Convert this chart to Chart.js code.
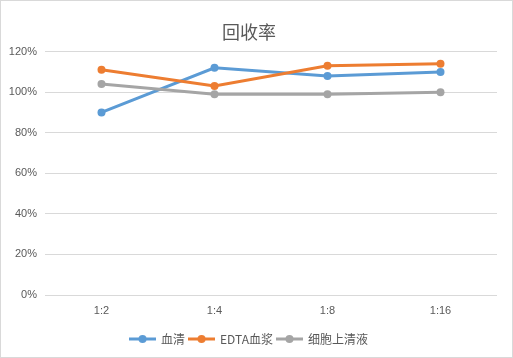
<!DOCTYPE html>
<html>
<head>
<meta charset="utf-8">
<script src="https://cdn.jsdelivr.net/npm/chart.js@4/dist/chart.umd.min.js"></script>
<style>
  html, body { margin: 0; padding: 0; background: #fff; }
  #wrap { width: 511px; height: 356px; border: 1px solid #d9d9d9; position: relative; }
  canvas { display: block; }
</style>
</head>
<body>
<div id="wrap"><canvas id="c" width="511" height="356"></canvas></div>
<script>
const categories = ['1:2', '1:4', '1:8', '1:16'];
const seriesNames = ['血清', 'EDTA血浆', '细胞上清液'];
const serum = [0.90, 1.12, 1.08, 1.10];
const edtaPlasma = [1.11, 1.03, 1.13, 1.14];
const cellSupernatant = [1.04, 0.99, 0.99, 1.00];
const yTicks = [0, 0.2, 0.4, 0.6, 0.8, 1.0, 1.2];
const colors = ['#5B9BD5', '#ED7D31', '#A5A5A5'];

const FONT = "'Liberation Sans', 'Noto Sans CJK SC', sans-serif";
const CJK = "'Noto Sans CJK SC', 'Liberation Sans', sans-serif";

function makeIcon(color) {
  const cv = document.createElement('canvas');
  cv.width = 27; cv.height = 10;
  const g = cv.getContext('2d');
  g.strokeStyle = color; g.lineWidth = 3;
  g.beginPath(); g.moveTo(0, 5); g.lineTo(27, 5); g.stroke();
  g.fillStyle = color;
  g.beginPath(); g.arc(13.5, 5, 4, 0, Math.PI * 2); g.fill();
  return cv;
}
const icons = colors.map(makeIcon);

const values = [serum, edtaPlasma, cellSupernatant];
const datasets = seriesNames.map((name, i) => ({
  label: name,
  data: values[i],
  borderColor: colors[i],
  backgroundColor: colors[i],
  borderWidth: 3,
  pointRadius: 4,
  pointHoverRadius: 4,
  pointBorderWidth: 0,
  tension: 0,
  order: 3 - i
}));

new Chart(document.getElementById('c'), {
  type: 'line',
  data: { labels: categories, datasets },
  options: {
    responsive: false,
    animation: false,
    devicePixelRatio: 1,
    layout: { padding: { left: 0, right: 15, top: 0, bottom: 2 } },
    plugins: {
      tooltip: { enabled: false },
      title: {
        display: true,
        text: '回收率',
        color: '#595959',
        font: { family: CJK, size: 18, weight: 'normal' },
        padding: { top: 20, bottom: 9 }
      },
      legend: {
        position: 'bottom',
        labels: {
          usePointStyle: true,
          pointStyleWidth: 25,
          padding: 4,
          color: '#595959',
          font: { family: CJK, size: 12 },
          sort: (a, b) => a.datasetIndex - b.datasetIndex,
          generateLabels(chart) {
            const items = Chart.defaults.plugins.legend.labels.generateLabels(chart);
            items.forEach(it => { it.pointStyle = icons[it.datasetIndex]; });
            return items;
          }
        }
      }
    },
    scales: {
      x: {
        offset: true,
        grid: { display: false, drawTicks: false, offset: true },
        border: { display: false },
        ticks: { color: '#595959', font: { family: FONT, size: 11 }, padding: 9 },
        afterFit(s) { s.height = 34; }
      },
      y: {
        min: 0,
        max: 1.2,
        afterBuildTicks(s) { s.ticks = yTicks.map(v => ({ value: v })); },
        grid: { color: '#d9d9d9', lineWidth: 1, drawTicks: false },
        border: { display: false },
        ticks: {
          color: '#595959',
          font: { family: FONT, size: 11 },
          padding: 8,
          callback: v => Math.round(v * 100) + '%'
        },
        afterFit(s) { s.width = 44; }
      }
    }
  }
});
</script>
</body>
</html>
